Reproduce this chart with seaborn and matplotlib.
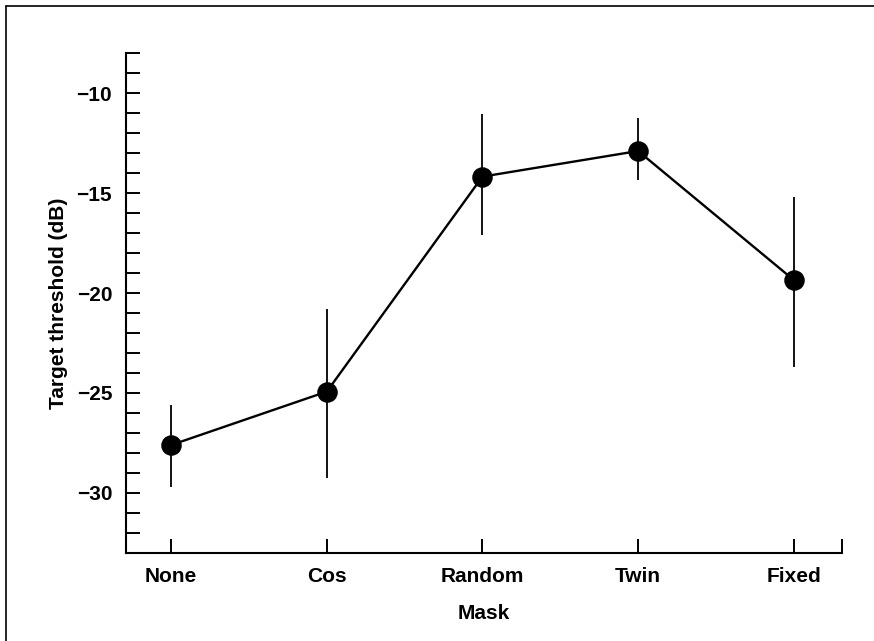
import matplotlib
matplotlib.use("Agg")
import matplotlib.pyplot as plt
from matplotlib.lines import Line2D
from matplotlib.ticker import MultipleLocator
import seaborn as sns
import pandas as pd

# Mean masked thresholds per masker condition, with error-bar extents
masks = ["None", "Cos", "Random", "Twin", "Fixed"]
threshold = [-27.6, -24.93, -14.18, -12.9, -19.35]
err_upper = [-25.6, -20.8, -11.05, -11.27, -15.18]
err_lower = [-29.68, -29.27, -17.1, -14.35, -23.68]

df = pd.DataFrame({"Mask": masks, "Threshold": threshold})

sns.set_style("ticks")
plt.rcParams["font.family"] = ["Liberation Sans", "DejaVu Sans"]
plt.rcParams["font.weight"] = "bold"
plt.rcParams["text.color"] = "black"
plt.rcParams["axes.labelcolor"] = "black"
plt.rcParams["xtick.color"] = "black"
plt.rcParams["ytick.color"] = "black"

fig = plt.figure(figsize=(8.74, 6.41), dpi=100)
ax = fig.add_axes([0.1442, 0.1373, 0.9634 - 0.1442, 0.9173 - 0.1373])

ax.vlines(range(len(masks)), err_lower, err_upper, color="black",
          linewidth=1.3, zorder=1)
sns.pointplot(data=df, x="Mask", y="Threshold", order=masks, color="black",
              errorbar=None, markers="o", markersize=13.5, linewidth=1.7,
              ax=ax, zorder=3)

ax.set_xlim(-0.29, 4.31)
ax.set_ylim(-33, -8)
ax.set_xticks(list(range(len(masks))) + [4.31])
ax.set_xticklabels(masks + [""])
ax.yaxis.set_major_locator(MultipleLocator(5))
ax.yaxis.set_minor_locator(MultipleLocator(1))

for s in ("top", "right"):
    ax.spines[s].set_visible(False)
for s in ("left", "bottom"):
    ax.spines[s].set_linewidth(1.5)
    ax.spines[s].set_color("black")

ax.tick_params(axis="both", which="both", direction="in", length=10,
               width=1.4, colors="black", labelcolor="black", labelsize=15,
               pad=10)
ax.tick_params(axis="y", which="minor", length=10)
for lab in ax.get_xticklabels() + ax.get_yticklabels():
    lab.set_fontweight("bold")

ax.set_xlabel("Mask", fontsize=15, fontweight="bold", labelpad=13,
              color="black")
ax.set_ylabel("Target threshold (dB)", fontsize=15, fontweight="bold",
              labelpad=6, color="black")

# Outer frame lines along the top and left of the figure
fig.add_artist(Line2D([6 / 874, 1.0], [1 - 6 / 641, 1 - 6 / 641],
                      transform=fig.transFigure, color="black", linewidth=1.2))
fig.add_artist(Line2D([6 / 874, 6 / 874], [0.0, 1 - 6 / 641],
                      transform=fig.transFigure, color="black", linewidth=1.2))

fig.savefig("out.png", dpi=100)
